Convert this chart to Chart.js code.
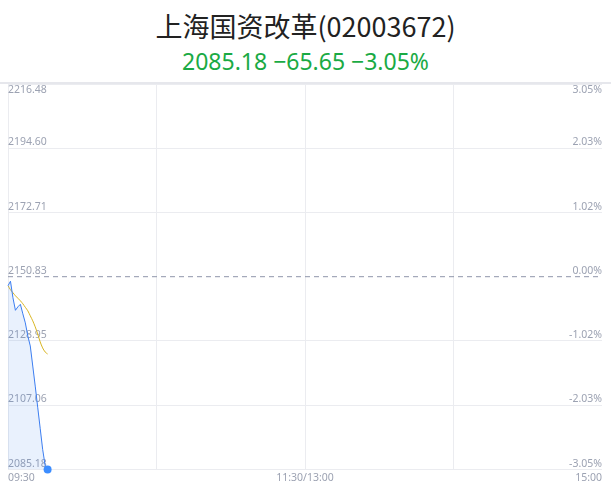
<!DOCTYPE html>
<html>
<head>
<meta charset="utf-8">
<script src="https://cdn.jsdelivr.net/npm/chart.js@4.4.1/dist/chart.umd.min.js"></script>
<style>
  html, body { margin: 0; padding: 0; background: #fff; }
  #wrap { position: relative; width: 611px; height: 492px; overflow: hidden; }
  #title { position: absolute; left: 0; top: 7px; width: 611px; text-align: center;
    font-family: "Noto Sans CJK SC", "Noto Sans", sans-serif; font-size: 27px; color: #222; line-height: 38px; }
  #sub { position: absolute; left: 0; top: 45px; width: 611px; text-align: center;
    font-family: "Noto Sans", "Noto Sans CJK SC", sans-serif; font-size: 23px; color: #1aaa44; line-height: 32px; }
  #topline { position: absolute; left: 0; top: 82px; width: 611px; height: 2px; background: #e6e7ec; }
  canvas { position: absolute; left: 0; top: 0; }
</style>
</head>
<body>
<div id="wrap">
  <div id="title">上海国资改革(02003672)</div>
  <div id="sub">2085.18 −65.65 −3.05%</div>
  <div id="topline"></div>
  <canvas id="myChart" width="611" height="492"></canvas>
</div>
<script>
// prices per minute from 09:30
var prices = [2147.75, 2149.29, 2143.65, 2139.38, 2140.57, 2141.43, 2138.18, 2135.10, 2130.66,
  2127.24, 2120.40, 2113.56, 2106.38, 2099.20, 2092.02, 2086.55, 2085.18];
var avgPrices = [2147.75, 2146.39, 2145.36, 2144.33, 2143.48, 2142.62, 2141.60, 2140.40, 2139.21,
  2137.50, 2135.79, 2133.74, 2131.34, 2128.61, 2126.56, 2125.19, 2124.50];
var prevClose = 2150.83;
var priceMin = 2085.18;
var priceMax = 2216.48;
var leftLabels = ['2216.48', '2194.60', '2172.71', '2150.83', '2128.95', '2107.06', '2085.18'];
var rightLabels = ['3.05%', '2.03%', '1.02%', '0.00%', '-1.02%', '-2.03%', '-3.05%'];
var timeLabels = { 0: '09:30', 120: '11:30/13:00', 240: '15:00' };
var totalMinutes = 240;

var grey = '#9ca2b2';
var gridColor = '#ebecf0';

function toPoints(arr) {
  return arr.map(function (v, i) { return { x: i, y: v }; });
}

// tick values top to bottom
function buildTicks(axis) {
  var step = (priceMax - priceMin) / (leftLabels.length - 1);
  axis.ticks = leftLabels.map(function (l, i) { return { value: priceMax - step * i }; });
}

// first label sits below its line, the others above
function tickText(labels) {
  return function (value, index) {
    var t = labels[index];
    return index === 0 ? ['', t] : [t, ''];
  };
}

var ctx = document.getElementById('myChart');
var chart = new Chart(ctx, {
  type: 'line',
  data: {
    datasets: [{
      data: toPoints(prices),
      borderColor: '#3b7df0',
      backgroundColor: 'rgba(59,125,240,0.11)',
      borderWidth: 1,
      fill: 'start',
      tension: 0,
      clip: false,
      pointRadius: prices.map(function (v, i) { return i === prices.length - 1 ? 4 : 0; }),
      pointBackgroundColor: '#3c8dff',
      pointBorderWidth: 0
    }, {
      data: toPoints(avgPrices),
      borderColor: '#d8b523',
      borderWidth: 1,
      fill: false,
      tension: 0.3,
      pointRadius: 0
    }, {
      data: [{ x: 0, y: prevClose }, { x: totalMinutes, y: prevClose }],
      borderColor: '#8f96aa',
      borderWidth: 1,
      borderDash: [5, 4],
      fill: false,
      pointRadius: 0
    }]
  },
  options: {
    responsive: false,
    animation: false,
    layout: { padding: { left: 8, right: 1, top: 84, bottom: 6 } },
    plugins: { legend: { display: false }, tooltip: { enabled: false }, title: { display: false } },
    scales: {
      x: {
        type: 'linear',
        min: 0,
        max: totalMinutes,
        afterBuildTicks: function (axis) {
          axis.ticks = [0, 60, 120, 180, 240].map(function (v) { return { value: v }; });
        },
        ticks: {
          autoSkip: false,
          maxRotation: 0,
          align: 'inner',
          padding: 2,
          color: grey,
          font: { family: 'Noto Sans', size: 10.5 },
          callback: function (v) { return timeLabels[v] || ''; }
        },
        grid: {
          drawTicks: false,
          color: function (c) { return c.tick && c.tick.value === totalMinutes ? 'rgba(0,0,0,0)' : gridColor; }
        },
        border: { display: false }
      },
      y: {
        position: 'left',
        min: priceMin,
        max: priceMax,
        afterBuildTicks: buildTicks,
        ticks: {
          mirror: true,
          padding: 0,
          color: grey,
          font: { family: 'Noto Sans', size: 10.5, lineHeight: 1.1 },
          callback: tickText(leftLabels)
        },
        grid: {
          drawTicks: false,
          color: function (c) {
            return c.tick && Math.abs(c.tick.value - prevClose) < 0.01 ? 'rgba(0,0,0,0)' : gridColor;
          }
        },
        border: { display: false }
      },
      y1: {
        position: 'right',
        min: priceMin,
        max: priceMax,
        afterBuildTicks: buildTicks,
        ticks: {
          mirror: true,
          padding: 0,
          color: grey,
          font: { family: 'Noto Sans', size: 10.5, lineHeight: 1.1 },
          callback: tickText(rightLabels)
        },
        grid: { display: false },
        border: { display: false }
      }
    }
  }
});
</script>
</body>
</html>
